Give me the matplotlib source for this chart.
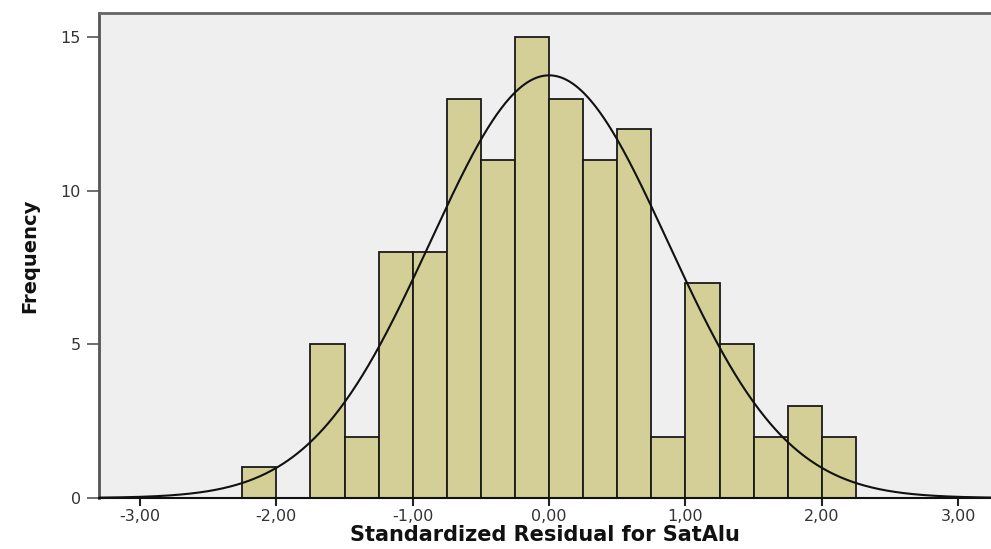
import numpy as np
import matplotlib
matplotlib.use("Agg")
import matplotlib.pyplot as plt
from matplotlib.ticker import FuncFormatter

# Histogram of standardized residuals (bin width 0.25)
bin_edges = [-2.25, -2.00, -1.75, -1.50, -1.25, -1.00, -0.75, -0.50, -0.25,
             0.00, 0.25, 0.50, 0.75, 1.00, 1.25, 1.50, 1.75, 2.00, 2.25]
counts = [1, 0, 5, 2, 8, 8, 13, 11, 15, 13, 11, 12, 2, 7, 5, 2, 3, 2]

# Normal curve parameters
curve_mean = 0.0
curve_sd = 0.87

x_ticks = [-3.0, -2.0, -1.0, 0.0, 1.0, 2.0, 3.0]
y_ticks = [0, 5, 10, 15]

bar_color = "#d3cf97"
bg_color = "#efefef"

fig = plt.figure(figsize=(9.91, 5.49), dpi=100)
ax = fig.add_axes([0.0999, 0.093, 0.9001, 0.883])
ax.set_facecolor(bg_color)

edges = np.array(bin_edges)
widths = np.diff(edges)
cnt = np.array(counts)
keep = cnt > 0
ax.bar(edges[:-1][keep], cnt[keep], width=widths[keep], align="edge",
       color=bar_color, edgecolor="#1a1a1a", linewidth=1.3, zorder=2)

xlim = (-3.30, 3.24)
n_total = cnt.sum()
bw = widths[0]
xs = np.linspace(xlim[0], xlim[1], 600)
ys = n_total * bw / (curve_sd * np.sqrt(2 * np.pi)) * np.exp(-0.5 * ((xs - curve_mean) / curve_sd) ** 2)
ax.plot(xs, ys, color="#111111", linewidth=1.5, zorder=3)

ax.set_xlim(*xlim)
ax.set_ylim(0, 15.78)
ax.set_xticks(x_ticks)
ax.set_yticks(y_ticks)
ax.xaxis.set_major_formatter(FuncFormatter(lambda v, p: f"{v:.2f}".replace(".", ",")))

ax.spines["right"].set_visible(False)
ax.spines["top"].set_color("#666666")
ax.spines["top"].set_linewidth(2.0)
ax.spines["left"].set_color("#555555")
ax.spines["left"].set_linewidth(2.0)
ax.spines["bottom"].set_color("#111111")
ax.spines["bottom"].set_linewidth(1.5)

ax.tick_params(axis="x", direction="out", length=6, width=1.5, color="#222222",
               labelsize=11.5, labelcolor="#333333", pad=2)
ax.tick_params(axis="y", direction="out", length=9, width=1.2, color="#555555",
               labelsize=11.5, labelcolor="#333333", pad=4)
for lab in ax.get_xticklabels() + ax.get_yticklabels():
    lab.set_fontfamily("DejaVu Sans")

ax.set_xlabel("Standardized Residual for SatAlu", fontsize=15, fontweight="bold",
              family="DejaVu Sans", color="#111111", labelpad=1)
ax.set_ylabel("Frequency", fontsize=14, fontweight="bold",
              family="DejaVu Sans", color="#111111", labelpad=15)

fig.savefig("out.png", dpi=100, facecolor="white")
